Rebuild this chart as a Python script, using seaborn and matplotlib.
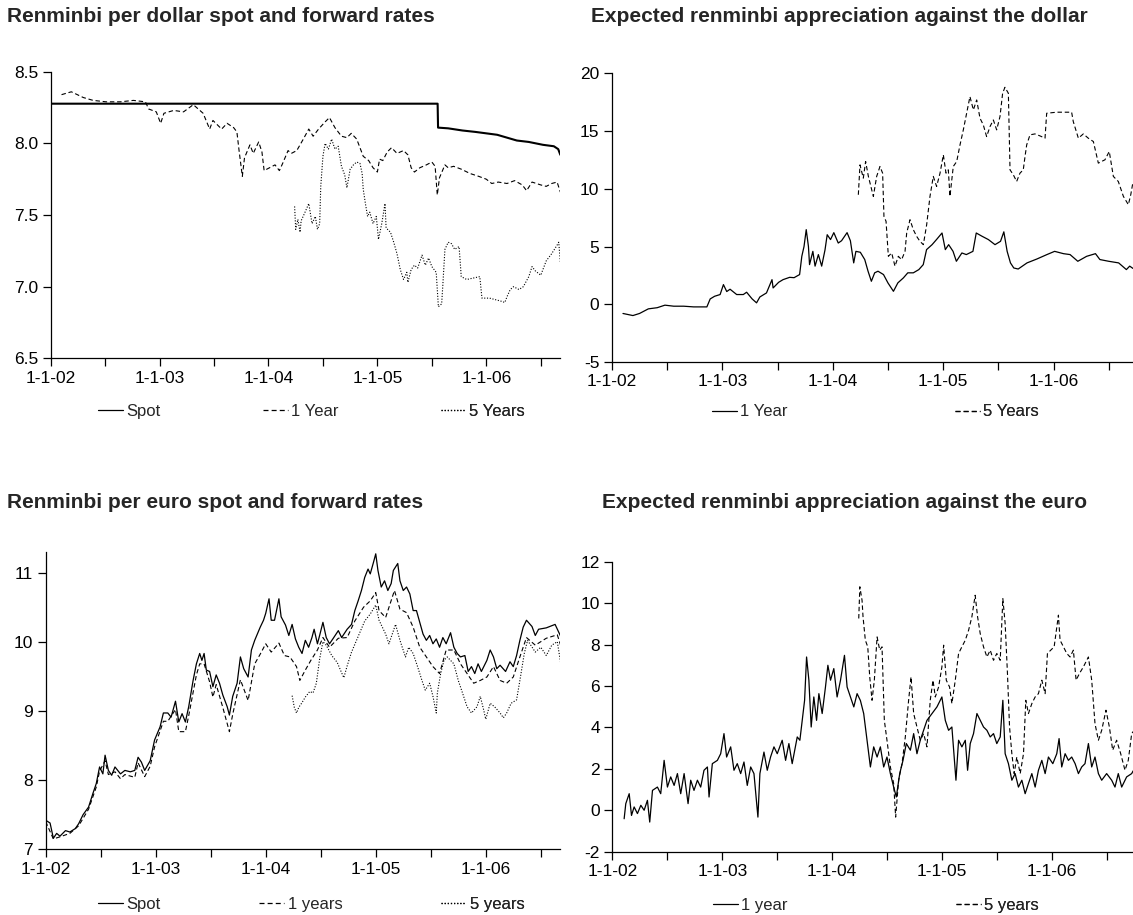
import matplotlib
matplotlib.use("Agg")
import matplotlib.pyplot as plt
from matplotlib.lines import Line2D
import pandas as pd
import seaborn as sns

# time axis is in decimal years (2002.0 = 1-1-02)
year_ticks = [2002, 2003, 2004, 2005, 2006]
year_labels = ["1-1-02", "1-1-03", "1-1-04", "1-1-05", "1-1-06"]
half_ticks = [2002.5, 2003.5, 2004.5, 2005.5, 2006.5]

# --- Renminbi per dollar ---
usd_spot = [(2002.00, 8.277), (2005.553, 8.277), (2005.557, 8.11), (2005.65, 8.105), (2005.78, 8.09),
            (2005.90, 8.08), (2006.00, 8.07), (2006.10, 8.06), (2006.19, 8.04), (2006.28, 8.02),
            (2006.39, 8.01), (2006.52, 7.99), (2006.62, 7.98), (2006.66, 7.96), (2006.68, 7.92)]

usd_1y = [(2002.10, 8.34), (2002.19, 8.36), (2002.30, 8.32), (2002.39, 8.30), (2002.51, 8.29), (2002.64, 8.29),
          (2002.76, 8.30), (2002.87, 8.29), (2002.90, 8.24), (2002.97, 8.22), (2003.01, 8.14), (2003.04, 8.21),
          (2003.13, 8.23), (2003.22, 8.22), (2003.31, 8.27), (2003.40, 8.21), (2003.46, 8.10), (2003.49, 8.16),
          (2003.57, 8.10), (2003.62, 8.14), (2003.68, 8.11), (2003.71, 8.08), (2003.73, 7.95), (2003.76, 7.77),
          (2003.78, 7.90), (2003.83, 7.99), (2003.86, 7.93), (2003.91, 8.01), (2003.94, 7.94), (2003.96, 7.81),
          (2004.01, 7.83), (2004.06, 7.85), (2004.10, 7.81), (2004.13, 7.86), (2004.18, 7.95), (2004.21, 7.93),
          (2004.26, 7.95), (2004.32, 8.03), (2004.37, 8.10), (2004.41, 8.05), (2004.46, 8.10), (2004.52, 8.15),
          (2004.56, 8.18), (2004.61, 8.11), (2004.67, 8.05), (2004.72, 8.04), (2004.76, 8.07), (2004.81, 8.03),
          (2004.84, 7.97), (2004.87, 7.91), (2004.92, 7.88), (2004.96, 7.83), (2005.00, 7.80), (2005.02, 7.89),
          (2005.05, 7.88), (2005.09, 7.94), (2005.13, 7.97), (2005.18, 7.93), (2005.24, 7.95), (2005.28, 7.92),
          (2005.31, 7.83), (2005.34, 7.80), (2005.39, 7.83), (2005.45, 7.85), (2005.50, 7.87), (2005.53, 7.84),
          (2005.55, 7.64), (2005.57, 7.76), (2005.62, 7.85), (2005.65, 7.83), (2005.70, 7.84), (2005.77, 7.82),
          (2005.85, 7.79), (2005.93, 7.77), (2006.00, 7.75), (2006.05, 7.72), (2006.11, 7.73), (2006.19, 7.72),
          (2006.26, 7.74), (2006.33, 7.71), (2006.37, 7.67), (2006.42, 7.73), (2006.50, 7.71), (2006.55, 7.70),
          (2006.60, 7.72), (2006.65, 7.73), (2006.68, 7.66)]

usd_5y = [(2004.24, 7.56), (2004.25, 7.40), (2004.27, 7.47), (2004.29, 7.38), (2004.30, 7.46), (2004.33, 7.51),
          (2004.37, 7.58), (2004.40, 7.44), (2004.43, 7.49), (2004.45, 7.40), (2004.47, 7.44), (2004.48, 7.70),
          (2004.50, 7.91), (2004.52, 8.00), (2004.55, 7.96), (2004.58, 8.03), (2004.61, 7.96), (2004.64, 7.98),
          (2004.67, 7.84), (2004.70, 7.78), (2004.72, 7.69), (2004.75, 7.82), (2004.78, 7.85), (2004.81, 7.87),
          (2004.84, 7.86), (2004.86, 7.79), (2004.87, 7.68), (2004.89, 7.58), (2004.91, 7.49), (2004.93, 7.52),
          (2004.96, 7.44), (2004.99, 7.49), (2005.01, 7.33), (2005.04, 7.44), (2005.07, 7.58), (2005.08, 7.41),
          (2005.12, 7.38), (2005.15, 7.31), (2005.18, 7.23), (2005.21, 7.12), (2005.24, 7.05), (2005.27, 7.10),
          (2005.28, 7.03), (2005.31, 7.12), (2005.34, 7.15), (2005.37, 7.13), (2005.41, 7.22), (2005.44, 7.15),
          (2005.47, 7.20), (2005.50, 7.14), (2005.54, 7.10), (2005.56, 6.86), (2005.59, 6.88), (2005.60, 7.00),
          (2005.62, 7.26), (2005.65, 7.31), (2005.68, 7.30), (2005.71, 7.26), (2005.75, 7.28), (2005.77, 7.07),
          (2005.82, 7.05), (2005.88, 7.06), (2005.94, 7.07), (2005.96, 6.92), (2006.03, 6.92), (2006.13, 6.90),
          (2006.17, 6.89), (2006.19, 6.93), (2006.22, 6.98), (2006.25, 7.00), (2006.30, 6.98), (2006.34, 7.00),
          (2006.39, 7.07), (2006.42, 7.14), (2006.45, 7.11), (2006.50, 7.08), (2006.55, 7.18), (2006.60, 7.23),
          (2006.65, 7.29), (2006.665, 7.31), (2006.68, 7.17)]

# --- Expected appreciation against the dollar (%) ---
usd_app_1y = [(2002.10, -0.80), (2002.19, -0.98), (2002.25, -0.80), (2002.33, -0.40), (2002.41, -0.30),
              (2002.48, -0.08), (2002.56, -0.17), (2002.65, -0.17), (2002.74, -0.23), (2002.86, -0.23),
              (2002.89, 0.46), (2002.93, 0.69), (2002.98, 0.84), (2003.01, 1.70), (2003.04, 1.10), (2003.07, 1.30),
              (2003.13, 0.84), (2003.19, 0.84), (2003.22, 1.04), (2003.27, 0.46), (2003.31, 0.12), (2003.34, 0.63),
              (2003.40, 0.98), (2003.45, 2.13), (2003.46, 1.41), (2003.51, 1.90), (2003.55, 2.13), (2003.61, 2.33),
              (2003.65, 2.30), (2003.70, 2.57), (2003.72, 4.15), (2003.74, 5.00), (2003.76, 6.46), (2003.78, 5.00),
              (2003.79, 3.43), (2003.82, 4.58), (2003.84, 3.30), (2003.87, 4.30), (2003.90, 3.30), (2003.93, 4.70),
              (2003.95, 6.02), (2003.98, 5.60), (2004.01, 6.20), (2004.05, 5.30), (2004.08, 5.50), (2004.13, 6.20),
              (2004.16, 5.50), (2004.19, 3.58), (2004.21, 4.58), (2004.25, 4.50), (2004.29, 3.87), (2004.32, 2.86),
              (2004.35, 1.99), (2004.38, 2.72), (2004.41, 2.86), (2004.46, 2.57), (2004.50, 1.85), (2004.55, 1.12),
              (2004.59, 1.85), (2004.64, 2.28), (2004.68, 2.72), (2004.73, 2.72), (2004.78, 3.00), (2004.82, 3.43),
              (2004.85, 4.73), (2004.90, 5.16), (2004.94, 5.60), (2004.99, 6.17), (2005.02, 4.73), (2005.05, 5.16),
              (2005.09, 4.58), (2005.12, 3.72), (2005.17, 4.44), (2005.21, 4.30), (2005.27, 4.58), (2005.30, 6.17),
              (2005.35, 5.90), (2005.41, 5.60), (2005.47, 5.16), (2005.52, 5.45), (2005.55, 6.27), (2005.58, 4.58),
              (2005.61, 3.58), (2005.64, 3.14), (2005.68, 3.05), (2005.76, 3.58), (2005.85, 3.92), (2005.94, 4.30),
              (2006.01, 4.58), (2006.09, 4.38), (2006.15, 4.30), (2006.22, 3.72), (2006.30, 4.15), (2006.38, 4.38),
              (2006.42, 3.87), (2006.50, 3.72), (2006.59, 3.58), (2006.66, 3.00), (2006.69, 3.30), (2006.72, 3.10)]

usd_app_5y = [(2004.232, 9.48), (2004.247, 12.07), (2004.277, 10.92), (2004.298, 12.36), (2004.323, 11.07),
              (2004.338, 10.49), (2004.368, 9.34), (2004.398, 11.07), (2004.428, 11.93), (2004.452, 11.35),
              (2004.464, 7.61), (2004.483, 7.18), (2004.504, 4.15), (2004.534, 4.44), (2004.564, 3.29),
              (2004.594, 4.15), (2004.624, 3.86), (2004.655, 4.58), (2004.670, 6.17), (2004.700, 7.32),
              (2004.730, 6.46), (2004.760, 5.88), (2004.790, 5.45), (2004.821, 5.16), (2004.851, 6.89),
              (2004.881, 9.34), (2004.911, 11.07), (2004.941, 10.20), (2004.972, 11.35), (2005.002, 12.94),
              (2005.026, 11.35), (2005.047, 11.64), (2005.062, 9.34), (2005.092, 11.93), (2005.123, 12.36),
              (2005.153, 13.80), (2005.183, 15.10), (2005.213, 16.54), (2005.243, 17.98), (2005.274, 16.83),
              (2005.304, 17.69), (2005.334, 16.11), (2005.364, 15.53), (2005.394, 14.52), (2005.425, 15.39),
              (2005.455, 15.96), (2005.485, 15.10), (2005.515, 16.25), (2005.539, 18.27), (2005.560, 18.79),
              (2005.591, 18.27), (2005.606, 11.64), (2005.636, 11.21), (2005.666, 10.63), (2005.696, 11.35),
              (2005.726, 11.64), (2005.742, 12.80), (2005.757, 13.80), (2005.787, 14.67), (2005.832, 14.75),
              (2005.877, 14.58), (2005.923, 14.38), (2005.938, 16.54), (2006.028, 16.63), (2006.119, 16.63),
              (2006.164, 16.63), (2006.179, 15.82), (2006.225, 14.38), (2006.270, 14.75), (2006.315, 14.38),
              (2006.361, 14.09), (2006.406, 12.22), (2006.466, 12.51), (2006.505, 13.23), (2006.542, 11.07),
              (2006.587, 10.63), (2006.633, 9.34), (2006.678, 8.62), (2006.700, 9.50), (2006.720, 10.60)]

# --- Renminbi per euro ---
eur_spot = [(2002.00, 7.42), (2002.04, 7.38), (2002.07, 7.16), (2002.10, 7.23), (2002.13, 7.19), (2002.18, 7.27),
            (2002.22, 7.25), (2002.27, 7.30), (2002.30, 7.37), (2002.34, 7.50), (2002.39, 7.61), (2002.43, 7.81),
            (2002.46, 7.95), (2002.49, 8.19), (2002.52, 8.09), (2002.54, 8.36), (2002.57, 8.14), (2002.60, 8.07),
            (2002.63, 8.19), (2002.68, 8.09), (2002.72, 8.14), (2002.77, 8.12), (2002.81, 8.14), (2002.84, 8.33),
            (2002.87, 8.26), (2002.90, 8.14), (2002.95, 8.28), (2002.99, 8.58), (2003.04, 8.77), (2003.07, 8.97),
            (2003.11, 8.97), (2003.14, 8.91), (2003.18, 9.14), (2003.21, 8.84), (2003.24, 8.96), (2003.27, 8.84),
            (2003.30, 9.06), (2003.34, 9.44), (2003.37, 9.68), (2003.40, 9.83), (2003.42, 9.73), (2003.44, 9.83),
            (2003.46, 9.59), (2003.49, 9.57), (2003.52, 9.35), (2003.55, 9.52), (2003.58, 9.40), (2003.61, 9.23),
            (2003.65, 9.06), (2003.67, 8.94), (2003.70, 9.21), (2003.74, 9.40), (2003.77, 9.78), (2003.80, 9.61),
            (2003.84, 9.49), (2003.87, 9.88), (2003.90, 10.02), (2003.95, 10.21), (2003.98, 10.31), (2004.00, 10.41),
            (2004.03, 10.62), (2004.05, 10.31), (2004.08, 10.31), (2004.12, 10.62), (2004.14, 10.36), (2004.18, 10.24),
            (2004.21, 10.09), (2004.24, 10.25), (2004.27, 10.04), (2004.30, 9.92), (2004.33, 9.83), (2004.36, 10.02),
            (2004.39, 9.92), (2004.42, 10.06), (2004.44, 10.18), (2004.47, 9.97), (2004.49, 10.09), (2004.52, 10.28),
            (2004.55, 10.06), (2004.58, 9.97), (2004.61, 10.04), (2004.66, 10.16), (2004.69, 10.06), (2004.74, 10.18),
            (2004.78, 10.25), (2004.81, 10.45), (2004.84, 10.59), (2004.87, 10.74), (2004.90, 10.93), (2004.93, 11.05),
            (2004.95, 10.98), (2004.98, 11.15), (2005.00, 11.27), (2005.02, 11.03), (2005.05, 10.79), (2005.08, 10.88),
            (2005.11, 10.74), (2005.14, 10.84), (2005.16, 11.03), (2005.20, 11.13), (2005.22, 10.88), (2005.25, 10.74),
            (2005.28, 10.79), (2005.31, 10.69), (2005.34, 10.45), (2005.37, 10.45), (2005.40, 10.28), (2005.43, 10.11),
            (2005.46, 10.02), (2005.49, 10.09), (2005.52, 9.97), (2005.55, 10.04), (2005.58, 9.92), (2005.61, 10.06),
            (2005.64, 9.97), (2005.68, 10.13), (2005.71, 9.92), (2005.74, 9.83), (2005.77, 9.78), (2005.81, 9.80),
            (2005.84, 9.57), (2005.87, 9.64), (2005.90, 9.54), (2005.93, 9.68), (2005.96, 9.57), (2006.01, 9.73),
            (2006.04, 9.88), (2006.07, 9.78), (2006.10, 9.61), (2006.13, 9.66), (2006.18, 9.57), (2006.22, 9.71),
            (2006.25, 9.64), (2006.28, 9.80), (2006.31, 10.02), (2006.34, 10.21), (2006.37, 10.31), (2006.42, 10.22),
            (2006.45, 10.09), (2006.48, 10.18), (2006.55, 10.20), (2006.63, 10.25), (2006.68, 10.08)]

eur_1y = [(2002.00, 7.40), (2002.07, 7.15), (2002.13, 7.18), (2002.22, 7.23), (2002.30, 7.34), (2002.39, 7.58),
          (2002.46, 7.90), (2002.49, 8.13), (2002.54, 8.28), (2002.57, 8.08), (2002.63, 8.12), (2002.68, 8.02),
          (2002.72, 8.08), (2002.81, 8.04), (2002.84, 8.25), (2002.90, 8.05), (2002.95, 8.20), (2002.99, 8.48),
          (2003.07, 8.85), (2003.11, 8.85), (2003.18, 9.02), (2003.21, 8.70), (2003.27, 8.70), (2003.30, 8.93),
          (2003.37, 9.52), (2003.40, 9.68), (2003.44, 9.68), (2003.49, 9.42), (2003.52, 9.20), (2003.55, 9.38),
          (2003.61, 9.05), (2003.67, 8.70), (2003.70, 8.95), (2003.77, 9.45), (2003.84, 9.15), (2003.90, 9.68),
          (2003.95, 9.82), (2004.00, 9.97), (2004.05, 9.85), (2004.12, 9.98), (2004.17, 9.80), (2004.22, 9.78),
          (2004.28, 9.64), (2004.31, 9.44), (2004.36, 9.59), (2004.41, 9.73), (2004.47, 9.88), (2004.52, 10.06),
          (2004.58, 9.92), (2004.66, 10.05), (2004.74, 10.06), (2004.81, 10.30), (2004.89, 10.50), (2004.95, 10.59),
          (2005.00, 10.71), (2005.03, 10.45), (2005.09, 10.35), (2005.17, 10.74), (2005.22, 10.47), (2005.28, 10.42),
          (2005.34, 10.21), (2005.40, 9.92), (2005.46, 9.78), (2005.52, 9.64), (2005.58, 9.54), (2005.64, 9.88),
          (2005.71, 9.88), (2005.77, 9.68), (2005.83, 9.54), (2005.89, 9.40), (2005.95, 9.44), (2006.01, 9.49),
          (2006.07, 9.64), (2006.13, 9.44), (2006.19, 9.40), (2006.25, 9.49), (2006.31, 9.78), (2006.37, 10.06),
          (2006.45, 9.95), (2006.55, 10.05), (2006.65, 10.10), (2006.68, 9.95)]

eur_5y = [(2004.24, 9.22), (2004.26, 9.05), (2004.28, 8.97), (2004.30, 9.05), (2004.33, 9.12), (2004.36, 9.20),
          (2004.40, 9.28), (2004.43, 9.26), (2004.46, 9.40), (2004.49, 9.75), (2004.52, 10.00), (2004.55, 9.95),
          (2004.60, 9.80), (2004.65, 9.70), (2004.69, 9.55), (2004.71, 9.48), (2004.74, 9.65), (2004.78, 9.85),
          (2004.82, 10.00), (2004.86, 10.15), (2004.90, 10.30), (2004.95, 10.40), (2005.00, 10.53), (2005.03, 10.31),
          (2005.09, 10.11), (2005.12, 9.97), (2005.18, 10.25), (2005.22, 10.02), (2005.27, 9.78), (2005.30, 9.92),
          (2005.34, 9.83), (2005.38, 9.64), (2005.42, 9.44), (2005.45, 9.30), (2005.49, 9.40), (2005.52, 9.21),
          (2005.55, 8.97), (2005.56, 9.26), (2005.59, 9.54), (2005.62, 9.73), (2005.65, 9.78), (2005.71, 9.68),
          (2005.75, 9.44), (2005.78, 9.30), (2005.83, 9.06), (2005.87, 8.97), (2005.92, 9.06), (2005.95, 9.21),
          (2005.98, 9.02), (2006.00, 8.88), (2006.04, 9.11), (2006.08, 9.06), (2006.13, 8.97), (2006.16, 8.90),
          (2006.19, 8.97), (2006.23, 9.11), (2006.28, 9.16), (2006.31, 9.44), (2006.35, 9.83), (2006.38, 10.02),
          (2006.45, 9.85), (2006.50, 9.92), (2006.55, 9.80), (2006.60, 9.95), (2006.65, 10.00), (2006.68, 9.70)]

# --- Expected appreciation against the euro (%) ---
eur_app_1y = [(2002.106, -0.41), (2002.121, 0.32), (2002.152, 0.80), (2002.173, -0.25), (2002.197, 0.16),
              (2002.227, -0.16), (2002.258, 0.24), (2002.288, 0.00), (2002.318, 0.48), (2002.339, -0.57),
              (2002.364, 0.96), (2002.409, 1.12), (2002.439, 0.80), (2002.470, 2.41), (2002.500, 1.12),
              (2002.530, 1.61), (2002.561, 1.20), (2002.591, 1.77), (2002.621, 0.80), (2002.652, 1.77),
              (2002.688, 0.32), (2002.712, 1.45), (2002.742, 0.96), (2002.773, 1.45), (2002.803, 1.12),
              (2002.833, 1.93), (2002.864, 2.09), (2002.879, 0.64), (2002.909, 2.25), (2002.955, 2.41),
              (2002.985, 2.73), (2003.015, 3.70), (2003.039, 2.57), (2003.076, 3.06), (2003.106, 1.93),
              (2003.136, 2.25), (2003.167, 1.77), (2003.197, 2.33), (2003.227, 1.20), (2003.258, 2.09),
              (2003.288, 1.77), (2003.324, -0.33), (2003.342, 1.77), (2003.379, 2.81), (2003.409, 1.93),
              (2003.439, 2.57), (2003.470, 3.06), (2003.500, 2.73), (2003.545, 3.38), (2003.576, 2.41),
              (2003.606, 3.22), (2003.636, 2.25), (2003.682, 3.54), (2003.706, 3.38), (2003.727, 4.34),
              (2003.749, 5.31), (2003.767, 7.40), (2003.788, 6.28), (2003.809, 4.02), (2003.833, 5.47),
              (2003.858, 4.34), (2003.879, 5.63), (2003.909, 4.67), (2003.939, 5.95), (2003.961, 7.00),
              (2003.985, 6.28), (2004.015, 6.84), (2004.045, 5.47), (2004.076, 6.28), (2004.112, 7.48),
              (2004.136, 5.95), (2004.167, 5.47), (2004.197, 4.99), (2004.227, 5.63), (2004.257, 5.30),
              (2004.287, 4.67), (2004.318, 3.38), (2004.348, 2.09), (2004.378, 3.06), (2004.409, 2.57),
              (2004.439, 3.06), (2004.469, 2.09), (2004.499, 2.57), (2004.530, 1.77), (2004.560, 1.12),
              (2004.584, 0.64), (2004.615, 1.77), (2004.645, 2.41), (2004.675, 3.22), (2004.712, 2.90),
              (2004.742, 3.70), (2004.772, 2.73), (2004.802, 3.38), (2004.833, 3.86), (2004.863, 4.34),
              (2004.909, 4.67), (2004.954, 4.99), (2004.999, 5.47), (2005.030, 4.34), (2005.060, 3.86),
              (2005.090, 4.02), (2005.127, 1.45), (2005.151, 3.38), (2005.181, 3.06), (2005.212, 3.38),
              (2005.233, 1.93), (2005.257, 3.22), (2005.287, 3.70), (2005.318, 4.67), (2005.348, 4.34),
              (2005.378, 4.02), (2005.409, 3.86), (2005.439, 3.54), (2005.469, 3.70), (2005.499, 3.22),
              (2005.530, 3.54), (2005.554, 5.31), (2005.575, 2.73), (2005.605, 2.25), (2005.636, 1.45),
              (2005.666, 1.77), (2005.696, 1.12), (2005.727, 1.45), (2005.757, 0.80), (2005.787, 1.29),
              (2005.818, 1.77), (2005.848, 1.12), (2005.878, 1.93), (2005.909, 2.41), (2005.939, 1.77),
              (2005.969, 2.57), (2006.009, 2.25), (2006.045, 2.73), (2006.066, 3.46), (2006.090, 2.09),
              (2006.121, 2.73), (2006.151, 2.41), (2006.181, 2.57), (2006.212, 2.25), (2006.242, 1.77),
              (2006.272, 2.09), (2006.302, 2.25), (2006.333, 3.22), (2006.363, 2.09), (2006.393, 2.57),
              (2006.424, 1.77), (2006.454, 1.45), (2006.499, 1.77), (2006.545, 1.45), (2006.575, 1.12),
              (2006.605, 1.77), (2006.636, 1.12), (2006.681, 1.61), (2006.727, 1.77), (2006.740, 1.90)]

eur_app_5y = [(2004.242, 9.26), (2004.252, 10.79), (2004.272, 10.14), (2004.281, 9.34), (2004.302, 8.21),
              (2004.324, 7.89), (2004.342, 6.44), (2004.363, 5.31), (2004.384, 6.28), (2004.409, 8.37),
              (2004.433, 7.73), (2004.454, 7.89), (2004.475, 4.34), (2004.499, 3.38), (2004.530, 2.09),
              (2004.560, 1.28), (2004.578, -0.33), (2004.605, 1.45), (2004.636, 2.25), (2004.666, 3.54),
              (2004.696, 5.31), (2004.718, 6.44), (2004.742, 4.67), (2004.772, 4.02), (2004.802, 3.38),
              (2004.833, 3.70), (2004.863, 3.06), (2004.893, 5.31), (2004.918, 6.28), (2004.939, 5.47),
              (2004.969, 5.95), (2004.999, 6.92), (2005.015, 7.97), (2005.039, 6.28), (2005.069, 5.95),
              (2005.090, 5.15), (2005.121, 6.28), (2005.151, 7.57), (2005.181, 7.89), (2005.212, 8.21),
              (2005.242, 8.69), (2005.272, 9.34), (2005.302, 10.38), (2005.324, 9.34), (2005.348, 8.53),
              (2005.378, 7.89), (2005.409, 7.40), (2005.439, 7.73), (2005.469, 7.24), (2005.499, 7.57),
              (2005.530, 7.24), (2005.554, 10.22), (2005.575, 9.01), (2005.596, 6.60), (2005.615, 4.02),
              (2005.636, 2.73), (2005.657, 1.77), (2005.681, 2.57), (2005.712, 1.77), (2005.742, 2.73),
              (2005.763, 5.31), (2005.787, 4.67), (2005.818, 5.15), (2005.848, 5.47), (2005.878, 5.63),
              (2005.909, 6.28), (2005.939, 5.63), (2005.960, 7.57), (2005.990, 7.73), (2006.021, 7.89),
              (2006.060, 9.42), (2006.075, 8.21), (2006.106, 7.89), (2006.136, 7.57), (2006.166, 7.40),
              (2006.196, 7.73), (2006.221, 6.28), (2006.251, 6.60), (2006.287, 6.92), (2006.333, 7.40),
              (2006.363, 6.28), (2006.393, 4.18), (2006.424, 3.38), (2006.454, 3.86), (2006.493, 4.83),
              (2006.524, 4.02), (2006.554, 2.90), (2006.590, 3.38), (2006.627, 2.73), (2006.666, 1.93),
              (2006.696, 2.41), (2006.727, 3.70), (2006.740, 3.80)]

SOLID = "-"
DASHED = (0, (4, 2.5))
DOTTED = (0, (1, 1.5))

sns.set_style("ticks")
plt.rcParams["font.family"] = ["Liberation Sans", "DejaVu Sans"]
plt.rcParams["axes.linewidth"] = 0.9

fig = plt.figure(figsize=(11.33, 9.15), dpi=100)


def draw(ax, pts, ls, lw=0.8):
    df = pd.DataFrame(pts, columns=["t", "v"])
    sns.lineplot(data=df, x="t", y="v", ax=ax, color="black", lw=lw, linestyle=ls,
                 estimator=None, sort=False, legend=False)


def setup(ax, xmax, yticks, ylabels, ylim):
    ax.set_xlim(2002, xmax)
    ax.set_ylim(*ylim)
    ax.set_xticks(year_ticks)
    ax.set_xticklabels(year_labels)
    ax.set_xticks(half_ticks, minor=True)
    ax.set_yticks(yticks)
    ax.set_yticklabels(ylabels)
    ax.tick_params(which="both", direction="out", length=6, width=0.9, colors="black",
                   labelsize=12.5, pad=3)
    ax.set_xlabel("")
    ax.set_ylabel("")
    for s in ("top", "right"):
        ax.spines[s].set_visible(False)
    for s in ("left", "bottom"):
        ax.spines[s].set_color("black")


def legend_items(ax, items, y):
    for cx, ls, text in items:
        h = Line2D([], [], color="black", lw=0.9, linestyle=ls)
        leg = ax.legend([h], [text], loc="center", bbox_to_anchor=(cx, y), frameon=False,
                        handlelength=1.5, handletextpad=0.2, fontsize=12, borderaxespad=0)
        ax.add_artist(leg)


ax1 = fig.add_axes([0.0447, 0.6084, 0.4496, 0.3132])
ax2 = fig.add_axes([0.5401, 0.6044, 0.4599, 0.3155])
ax3 = fig.add_axes([0.0403, 0.0718, 0.4540, 0.3252])
ax4 = fig.add_axes([0.5406, 0.0692, 0.4594, 0.3169])

draw(ax1, usd_spot, SOLID, lw=1.5)
draw(ax1, usd_1y, DASHED)
draw(ax1, usd_5y, DOTTED)
setup(ax1, 2006.677, [6.5, 7.0, 7.5, 8.0, 8.5], ["6.5", "7.0", "7.5", "8.0", "8.5"], (6.5, 8.5))
legend_items(ax1, [(0.155, SOLID, "Spot"), (0.491, DASHED, "1 Year"), (0.849, DOTTED, "5 Years")], -0.184)

draw(ax2, usd_app_1y, SOLID, lw=0.9)
draw(ax2, usd_app_5y, DASHED)
setup(ax2, 2006.72, [-5, 0, 5, 10, 15, 20], ["-5", "0", "5", "10", "15", "20"], (-5, 20))
legend_items(ax2, [(0.265, SOLID, "1 Year"), (0.739, DASHED, "5 Years")], -0.173)

draw(ax3, eur_spot, SOLID, lw=0.9)
draw(ax3, eur_1y, DASHED)
draw(ax3, eur_5y, DOTTED)
setup(ax3, 2006.675, [7, 8, 9, 10, 11], ["7", "8", "9", "10", "11"], (7, 11.3))
legend_items(ax3, [(0.163, SOLID, "Spot"), (0.496, DASHED, "1 years"), (0.850, DOTTED, "5 years")], -0.184)

draw(ax4, eur_app_1y, SOLID, lw=0.9)
draw(ax4, eur_app_5y, DASHED)
setup(ax4, 2006.739, [-2, 0, 2, 4, 6, 8, 10, 12], ["-2", "0", "2", "4", "6", "8", "10", "12"], (-2, 12))
legend_items(ax4, [(0.265, SOLID, "1 year"), (0.739, DASHED, "5 years")], -0.184)

title_kw = dict(fontsize=15, fontweight="bold", ha="left", va="center")
fig.text(0.006, 1 - 17 / 915, "Renminbi per dollar spot and forward rates", **title_kw)
fig.text(0.5216, 1 - 17 / 915, "Expected renminbi appreciation against the dollar", **title_kw)
fig.text(0.006, 1 - 503 / 915, "Renminbi per euro spot and forward rates", **title_kw)
fig.text(0.531, 1 - 502 / 915, "Expected renminbi appreciation against the euro", **title_kw)

fig.savefig("out.png", dpi=100)
